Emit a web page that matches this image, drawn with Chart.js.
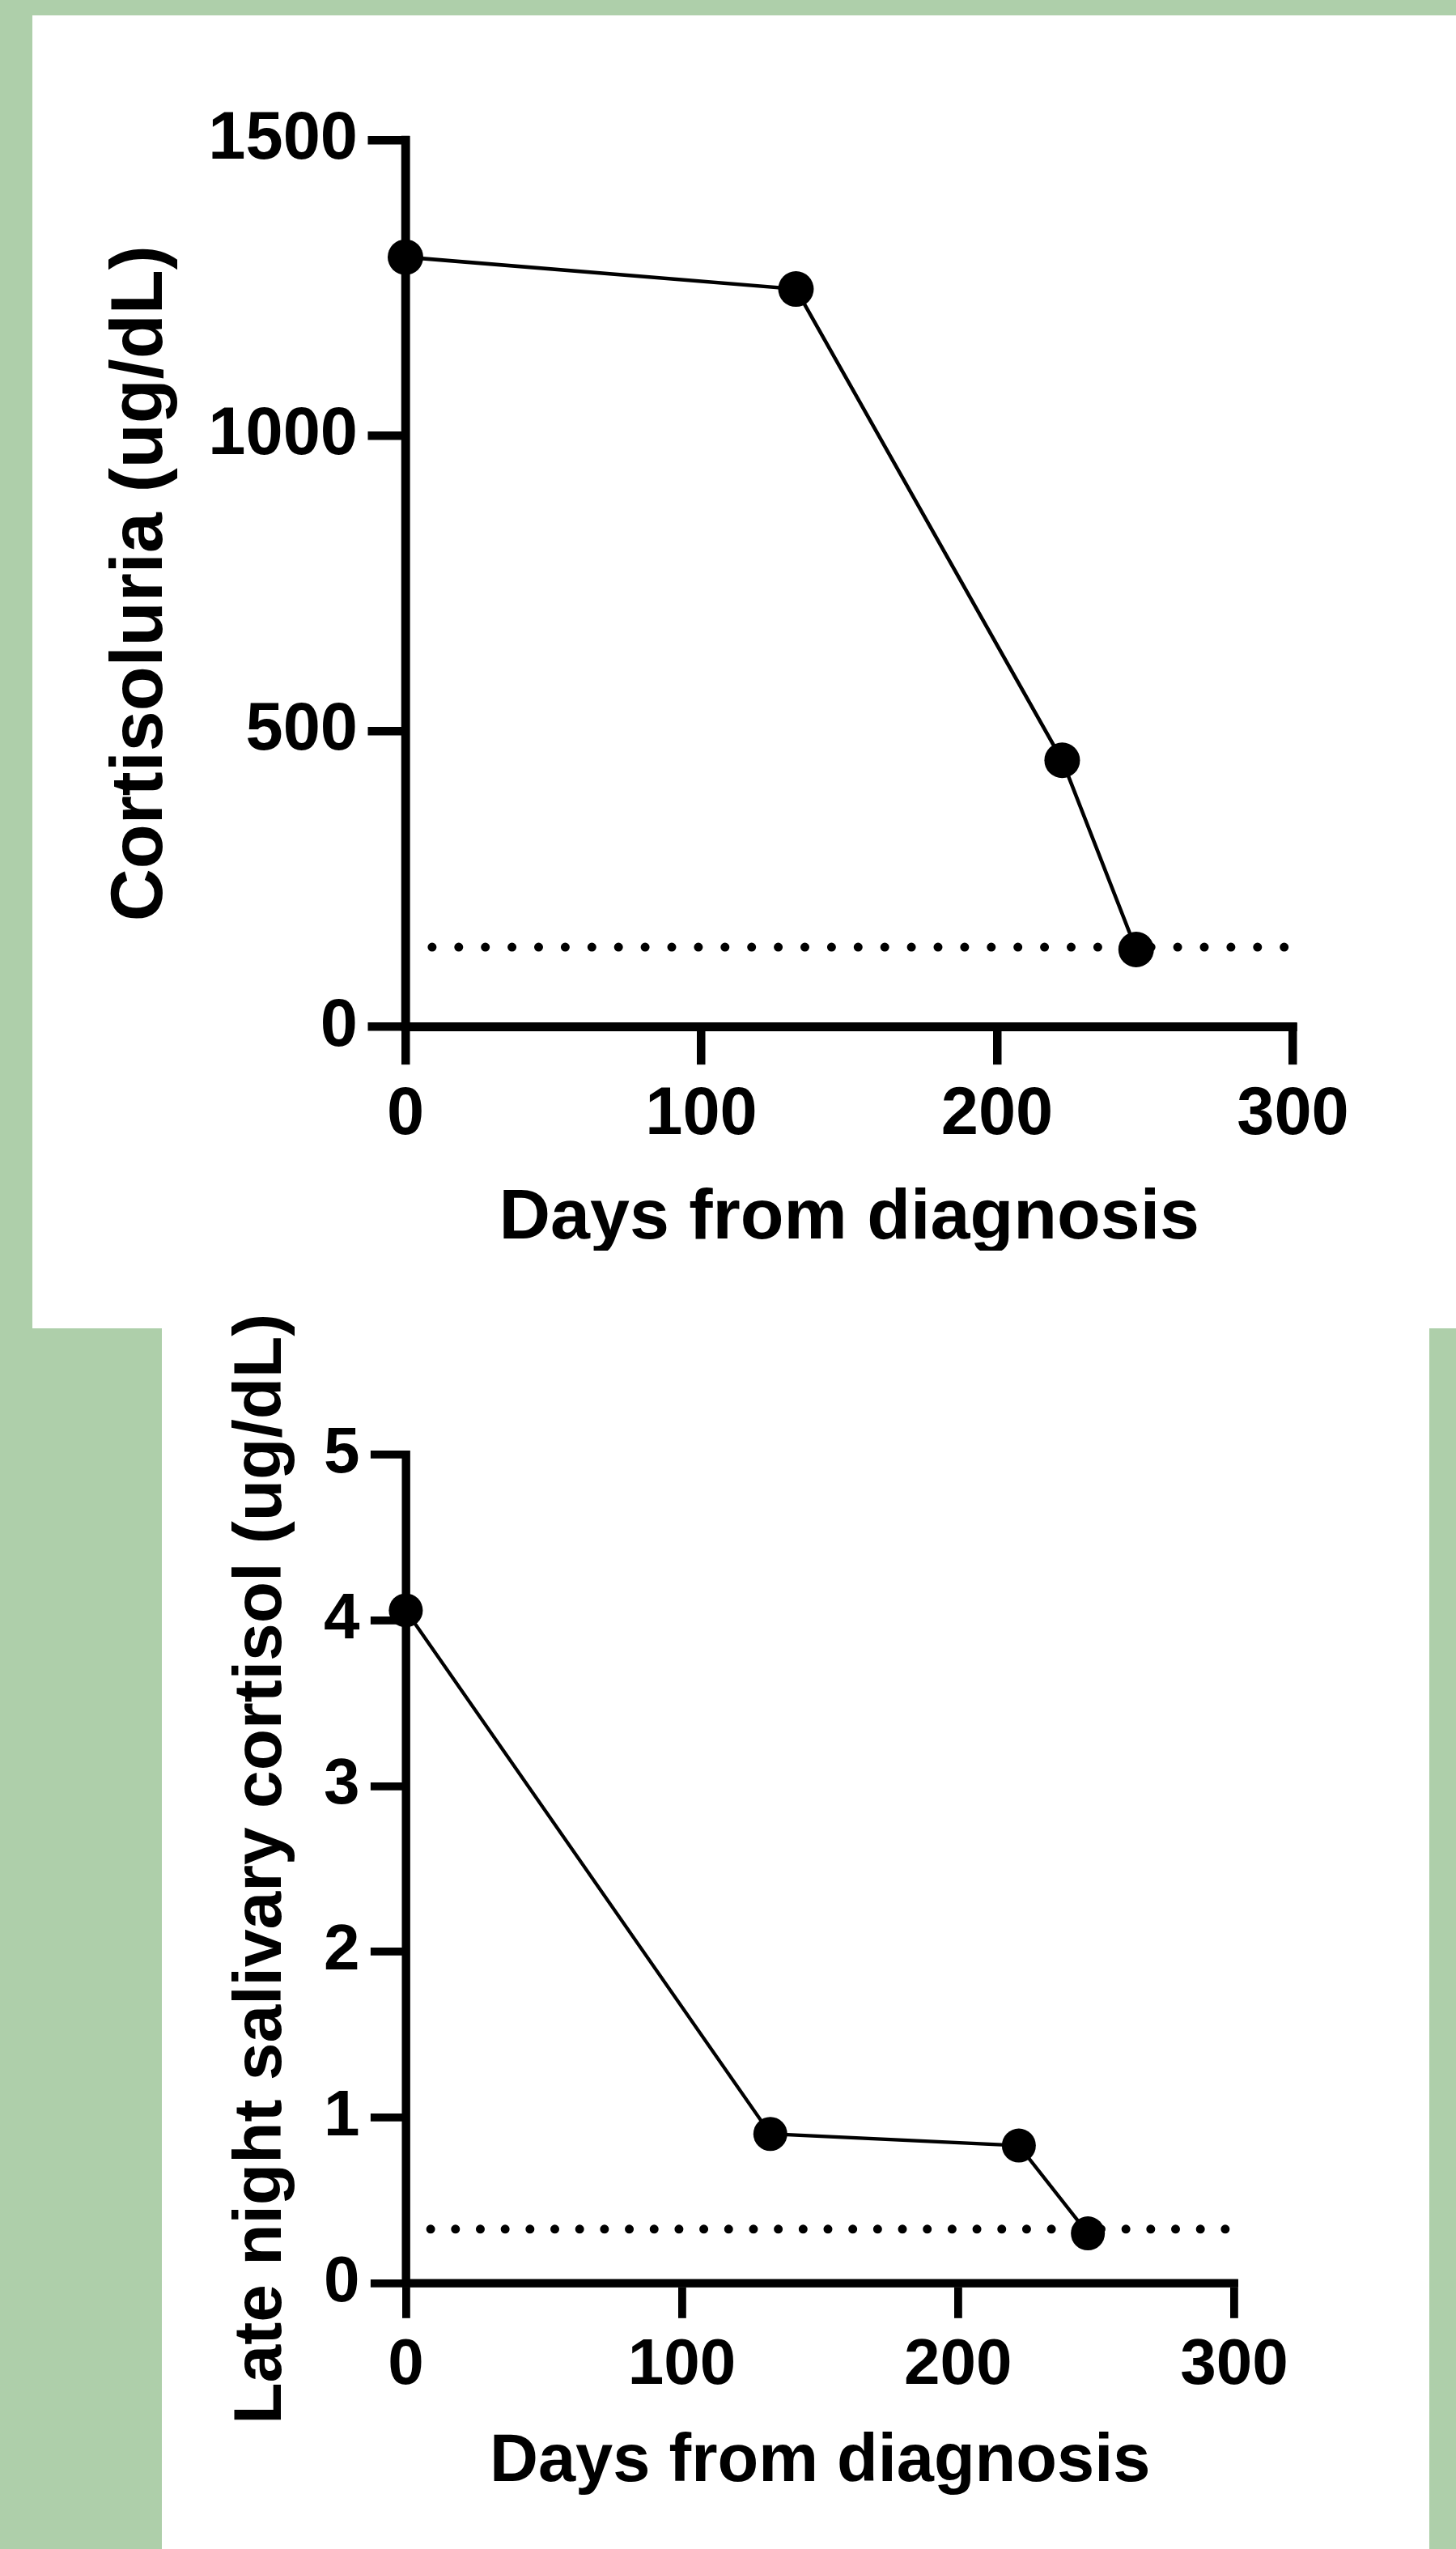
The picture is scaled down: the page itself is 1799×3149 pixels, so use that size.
<!DOCTYPE html>
<html>
<head>
<meta charset="utf-8">
<script src="https://cdn.jsdelivr.net/npm/chart.js@4/dist/chart.umd.min.js"></script>
<style>
  html, body { margin: 0; padding: 0; }
  body { width: 1799px; height: 3149px; background: #aecfaa; position: relative; overflow: hidden; font-family: "Liberation Sans", Arial, sans-serif; }
  .panel { position: absolute; background: #ffffff; }
  canvas { position: absolute; }
</style>
</head>
<body>
<div class="panel" style="left:40px; top:19px; width:1759px; height:1622px;"></div>
<div class="panel" style="left:200px; top:1641px; width:1566px; height:1508px;"></div>
<canvas id="c1" width="1799" height="1641" style="left:0; top:0; width:1799px; height:1641px; z-index:1;"></canvas>
<div class="panel" style="left:40px; top:1545px; width:1759px; height:96px; z-index:2;"></div>
<canvas id="c2" width="1799" height="1589" style="left:0; top:1560px; width:1799px; height:1589px; z-index:3;"></canvas>
<script>
// ---- data ----
const days = [0, 132, 222, 247];
const cortisoluria = [1302, 1248, 451, 131];          // ug/dL
const salivaryCortisol = [4.06, 0.90, 0.83, 0.30];    // ug/dL
const cortisoluriaLimit = [135, 135];
const salivaryLimit = [0.326, 0.326];
const limitDays = [9, 297.2];
const xTicks = [0, 100, 200, 300];
const yTicksTop = [0, 500, 1000, 1500];
const yTicksBottom = [0, 1, 2, 3, 4, 5];

const FONT = "'Liberation Sans', Arial, Helvetica, sans-serif";

const axisCorners = {
  id: 'axisCorners',
  afterDraw(chart, args, opts) {
    const { ctx, chartArea: a } = chart;
    ctx.save();
    ctx.strokeStyle = '#000';
    ctx.lineWidth = opts.width;
    ctx.lineCap = 'square';
    ctx.beginPath();
    ctx.moveTo(a.left, a.bottom); ctx.lineTo(a.left, a.top);
    ctx.moveTo(a.left, a.bottom); ctx.lineTo(a.right, a.bottom);
    ctx.stroke();
    ctx.restore();
  }
};

function pts(xs, ys) { return xs.map((x, i) => ({ x: x, y: ys[i] })); }

function makeChart(id, cfg) {
  const ctx = document.getElementById(id).getContext('2d');
  return new Chart(ctx, {
    type: 'line',
    data: {
      datasets: [
        {
          data: pts(days, cfg.values),
          borderColor: '#000', backgroundColor: '#000',
          borderWidth: cfg.lineWidth,
          pointRadius: cfg.pointRadius, pointHoverRadius: cfg.pointRadius,
          pointBackgroundColor: '#000', pointBorderColor: '#000', pointBorderWidth: 0,
          tension: 0, clip: false, order: 1
        },
        {
          data: pts(limitDays, cfg.limit),
          borderColor: '#000', borderWidth: cfg.dotSize,
          borderDash: [0, cfg.dotGap], borderCapStyle: 'round',
          pointRadius: 0, pointHoverRadius: 0, tension: 0, clip: false, order: 2
        }
      ]
    },
    options: {
      responsive: false, maintainAspectRatio: false, animation: false,
      devicePixelRatio: 1,
      layout: { padding: cfg.padding },
      plugins: { legend: { display: false }, tooltip: { enabled: false }, axisCorners: { width: cfg.axisWidth } },
      scales: {
        x: {
          type: 'linear', position: 'bottom', min: 0, max: 300,
          afterFit: (s) => { s.height = cfg.xHeight; },
          afterBuildTicks: (s) => { s.ticks = xTicks.map(v => ({ value: v })); },
          border: { display: true, color: '#000', width: cfg.axisWidth },
          grid: { drawOnChartArea: false, drawTicks: true, tickLength: cfg.xTickLen, lineWidth: cfg.axisWidth, tickWidth: cfg.axisWidth, color: '#000', tickColor: '#000' },
          ticks: { autoSkip: false, maxRotation: 0, minRotation: 0, padding: cfg.xTickPad, color: '#000',
                   font: { family: FONT, size: cfg.tickSize, weight: 'bold' }, callback: (v) => String(v) },
          title: { display: true, text: 'Days from diagnosis', color: '#000',
                   font: { family: FONT, size: cfg.xTitleSize, weight: 'bold', lineHeight: 1.2 },
                   padding: { top: 0, bottom: cfg.xTitlePad } }
        },
        y: {
          type: 'linear', position: 'left', min: 0, max: cfg.yMax,
          afterFit: (s) => { s.width = cfg.yWidth; },
          afterBuildTicks: (s) => { s.ticks = cfg.yTicks.map(v => ({ value: v })); },
          border: { display: true, color: '#000', width: cfg.axisWidth },
          grid: { drawOnChartArea: false, drawTicks: true, tickLength: cfg.yTickLen, lineWidth: cfg.axisWidth, tickWidth: cfg.axisWidth, color: '#000', tickColor: '#000' },
          ticks: { autoSkip: false, padding: cfg.yTickPad, color: '#000',
                   font: { family: FONT, size: cfg.tickSize, weight: 'bold' }, callback: (v) => String(v) },
          title: { display: true, text: cfg.yTitle, color: '#000',
                   font: { family: FONT, size: cfg.yTitleSize, weight: 'bold', lineHeight: 1.2 },
                   padding: { top: cfg.yTitlePad, bottom: 0 } }
        }
      }
    },
    plugins: [axisCorners]
  });
}

makeChart('c1', {
  values: cortisoluria, limit: cortisoluriaLimit, yMax: 1500, yTicks: yTicksTop,
  yTitle: 'Cortisoluria (ug/dL)',
  lineWidth: 4.6, pointRadius: 22, dotSize: 11, dotGap: 32.9, axisWidth: 10.5,
  padding: { top: 173, right: 201.5, bottom: 0, left: 100 },
  yWidth: 401, xHeight: 372.3,
  tickSize: 83, xTickLen: 46.5, xTickPad: 13, yTickLen: 46.5, yTickPad: 12.5,
  xTitleSize: 88, xTitlePad: 82, yTitleSize: 90, yTitlePad: 21
});

makeChart('c2', {
  values: salivaryCortisol, limit: salivaryLimit, yMax: 5, yTicks: yTicksBottom,
  yTitle: 'Late night salivary cortisol (ug/dL)',
  lineWidth: 4.3, pointRadius: 21, dotSize: 11, dotGap: 30.68, axisWidth: 9.8,
  padding: { top: 237, right: 274, bottom: 0, left: 100 },
  yWidth: 401.4, xHeight: 328.5,
  tickSize: 80, xTickLen: 43.3, xTickPad: 11, yTickLen: 43.5, yTickPad: 13.5,
  xTitleSize: 83, xTitlePad: 57, yTitleSize: 84, yTitlePad: 173.6
});
</script>
</body>
</html>
